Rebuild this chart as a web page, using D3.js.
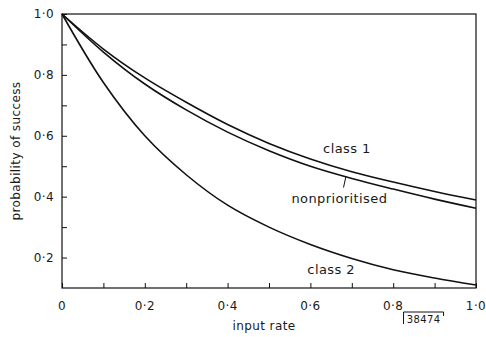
<!DOCTYPE html>
<meta charset="utf-8">
<style>
    body { margin: 0; background: #fff; }
    text { font-family: "DejaVu Sans", sans-serif; fill: #1a1a1a; letter-spacing: 0.4px; }
    .axis path, .axis line { stroke: #111; }
    .curve { fill: none; stroke: #111; stroke-width: 1.6; }
</style>
<body>
<script src="https://d3js.org/d3.v7.min.js"></script>
<script>

// input rate samples
var inputRate = [0, 0.1, 0.2, 0.3, 0.4, 0.5, 0.6, 0.7, 0.8, 0.9, 1.0];
// probability of success
var class1 = [1.0, 0.885, 0.79, 0.71, 0.637, 0.575, 0.524, 0.482, 0.448, 0.417, 0.389];
var nonprioritised = [1.0, 0.875, 0.77, 0.685, 0.612, 0.551, 0.5, 0.46, 0.425, 0.392, 0.362];
var class2 = [1.0, 0.775, 0.6, 0.472, 0.372, 0.3, 0.243, 0.197, 0.16, 0.133, 0.11];

var xTicks = [0, 0.2, 0.4, 0.6, 0.8, 1.0];
var xMinor = [0.1, 0.3, 0.5, 0.7, 0.9];
var yTicks = [0.2, 0.4, 0.6, 0.8, 1.0];
var yMinor = [0.3, 0.5, 0.7, 0.9];

var margin = {top: 14, right: 10, bottom: 49, left: 62},
    width = 486 - margin.left - margin.right,
    height = 337 - margin.top - margin.bottom;

var fmt = function(d) { return d3.format(".1f")(d).replace(".", "·"); };

var x = d3.scaleLinear().domain([0, 1]).range([0, width]);
var y = d3.scaleLinear().domain([0.1, 1]).range([height, 0]);

var svg = d3.select("body").append("svg")
    .attr("width", 486)
    .attr("height", 337)
  .append("g")
    .attr("transform", "translate(" + margin.left + "," + margin.top + ")");

// frame
svg.append("rect")
    .attr("width", width)
    .attr("height", height)
    .attr("fill", "none")
    .attr("stroke", "#111")
    .attr("stroke-width", 1.2);

// x axis, ticks pointing inwards
svg.append("g")
    .attr("class", "axis")
    .attr("transform", "translate(0," + height + ")")
    .call(d3.axisTop(x).tickValues(xTicks.concat(xMinor)).tickSize(5).tickFormat(""))
    .call(function(g) { g.select(".domain").remove(); });

svg.append("g")
    .selectAll("text")
    .data(xTicks)
    .join("text")
    .attr("x", function(d) { return x(d); })
    .attr("y", height + 22)
    .attr("text-anchor", "middle")
    .style("font-size", "12px")
    .text(function(d) { return d === 0 ? "0" : fmt(d); });

// y axis, ticks pointing inwards
svg.append("g")
    .attr("class", "axis")
    .call(d3.axisRight(y).tickValues(yTicks.concat(yMinor)).tickSize(5).tickFormat(""))
    .call(function(g) { g.select(".domain").remove(); });

svg.append("g")
    .selectAll("text")
    .data(yTicks)
    .join("text")
    .attr("x", -8)
    .attr("y", function(d) { return y(d); })
    .attr("dy", "0.35em")
    .attr("text-anchor", "end")
    .style("font-size", "12px")
    .text(fmt);

// curves
var line = d3.line()
    .x(function(d, i) { return x(inputRate[i]); })
    .y(function(d) { return y(d); })
    .curve(d3.curveCatmullRom.alpha(0.5));

[class1, nonprioritised, class2].forEach(function(s) {
    svg.append("path").attr("class", "curve").attr("d", line(s));
});

// curve labels
svg.append("text").attr("x", x(0.688)).attr("y", y(0.545)).attr("text-anchor", "middle")
    .style("font-size", "13px").text("class 1");
svg.append("text").attr("x", x(0.67)).attr("y", y(0.38)).attr("text-anchor", "middle")
    .style("font-size", "13px").text("nonprioritised");
svg.append("text").attr("x", x(0.65)).attr("y", y(0.145)).attr("text-anchor", "middle")
    .style("font-size", "13px").text("class 2");
// pointer from label to nonprioritised curve
svg.append("line")
    .attr("x1", x(0.68)).attr("y1", y(0.43))
    .attr("x2", x(0.686)).attr("y2", y(0.468))
    .attr("stroke", "#111").attr("stroke-width", 1);

// axis titles
svg.append("text")
    .attr("x", x(0.5) - 5)
    .attr("y", height + 42)
    .attr("text-anchor", "middle")
    .style("font-size", "12px")
    .text("input rate");

svg.append("text")
    .attr("transform", "translate(" + (-42) + "," + y(0.55) + ") rotate(-90)")
    .attr("text-anchor", "middle")
    .style("font-size", "12px")
    .text("probability of success");

// figure number in a bracket
var fig = svg.append("g").attr("transform", "translate(" + (x(0.825)) + "," + (height + 24) + ")");
fig.append("path")
    .attr("d", "M0,12V0H40V4")
    .attr("fill", "none")
    .attr("stroke", "#111")
    .attr("stroke-width", 1);
fig.append("text")
    .attr("x", 20).attr("y", 10.5)
    .attr("text-anchor", "middle")
    .style("font-size", "10px")
    .text("38474");

</script>
